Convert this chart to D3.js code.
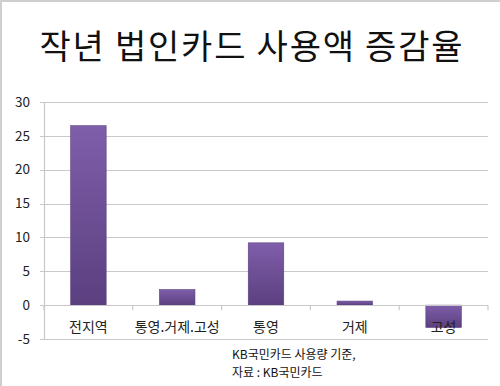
<!DOCTYPE html>
<html><head><meta charset="utf-8">
<script src="https://cdn.jsdelivr.net/npm/d3@7"></script>
<style>html,body{margin:0;padding:0;background:#fff;}svg{display:block;}</style>
</head><body>
<script>
const categories = ["전지역", "통영.거제.고성", "통영", "거제", "고성"];
const values = [26.5, 2.3, 9.2, 0.6, -3.3];
const yTicks = [-5, 0, 5, 10, 15, 20, 25, 30];
const title = "작년 법인카드 사용액 증감율";
const note = ["KB국민카드 사용량 기준,", "자료 : KB국민카드"];

const W = 500, H = 386;
const svg = d3.select("body").append("svg").attr("width", W).attr("height", H);
const font = "'Noto Sans CJK KR','Noto Sans',sans-serif";

// border
svg.append("path").attr("d", `M1,${H} V1 H${W}`).attr("fill", "none").attr("stroke", "#cfcfcf").attr("stroke-width", 2);

const left = 44, right = 488;
const y = d3.scaleLinear().domain([-5, 30]).range([339, 102]);
const x = d3.scaleBand().domain(categories).range([left, right]).paddingInner(0.6).paddingOuter(0.3);
const xb = d3.scaleBand().domain(categories).range([left, right]);

const defs = svg.append("defs");
const g = defs.append("linearGradient").attr("id", "bg").attr("x1", 0).attr("y1", 0).attr("x2", 0).attr("y2", 1);
g.append("stop").attr("offset", "0%").attr("stop-color", "#7f5eaa");
g.append("stop").attr("offset", "100%").attr("stop-color", "#5b3f7f");

// gridlines
svg.append("g").selectAll("line").data(yTicks.filter(d => d !== 0)).join("line")
  .attr("x1", left - 4).attr("x2", right).attr("y1", d => Math.round(y(d)) + 0.5).attr("y2", d => Math.round(y(d)) + 0.5)
  .attr("stroke", "#c9c9c9").attr("stroke-width", 1.2);

// y axis labels
svg.append("g").selectAll("text").data(yTicks).join("text")
  .attr("x", 30).attr("y", d => y(d)).attr("dy", "0.35em").attr("text-anchor", "end")
  .attr("font-family", font).attr("font-size", 13.5).attr("fill", "#222").text(d => d);

// y axis line
svg.append("line").attr("x1", left + 0.5).attr("x2", left + 0.5).attr("y1", y(30)).attr("y2", y(-5))
  .attr("stroke", "#c9c9c9").attr("stroke-width", 1.2);

// bars
svg.append("g").selectAll("rect").data(categories).join("rect")
  .attr("x", d => x(d)).attr("width", x.bandwidth())
  .attr("y", (d, i) => y(Math.max(0, values[i])))
  .attr("height", (d, i) => Math.abs(y(values[i]) - y(0)))
  .attr("fill", "url(#bg)").attr("stroke", "#5a4080").attr("stroke-width", 0.6);

// zero axis with ticks
svg.append("line").attr("x1", left - 4).attr("x2", right).attr("y1", Math.round(y(0)) + 0.5).attr("y2", Math.round(y(0)) + 0.5)
  .attr("stroke", "#c9c9c9").attr("stroke-width", 1.2);
svg.append("g").selectAll("line").data(categories.concat(["end"])).join("line")
  .attr("x1", (d, i) => i < categories.length ? xb(d) : right).attr("x2", (d, i) => i < categories.length ? xb(d) : right)
  .attr("y1", y(0)).attr("y2", y(0) + 5).attr("stroke", "#c9c9c9").attr("stroke-width", 1.2);

// category labels
svg.append("g").selectAll("text").data(categories).join("text")
  .attr("x", d => xb(d) + xb.bandwidth() / 2).attr("y", 327).attr("dy", "0.35em").attr("text-anchor", "middle")
  .attr("font-family", font).attr("font-size", 14).attr("fill", "#222").text(d => d);

// title
svg.append("text").attr("x", 251).attr("y", 59).attr("text-anchor", "middle")
  .attr("font-family", font).attr("font-size", 34).attr("fill", "#111")
  .attr("textLength", 423).attr("lengthAdjust", "spacing").text(title);

// note
svg.append("g").selectAll("text").data(note).join("text")
  .attr("x", 232).attr("y", (d, i) => 359 + i * 18)
  .attr("font-family", font).attr("font-size", 12).attr("fill", "#111").text(d => d);
</script>
</body></html>
